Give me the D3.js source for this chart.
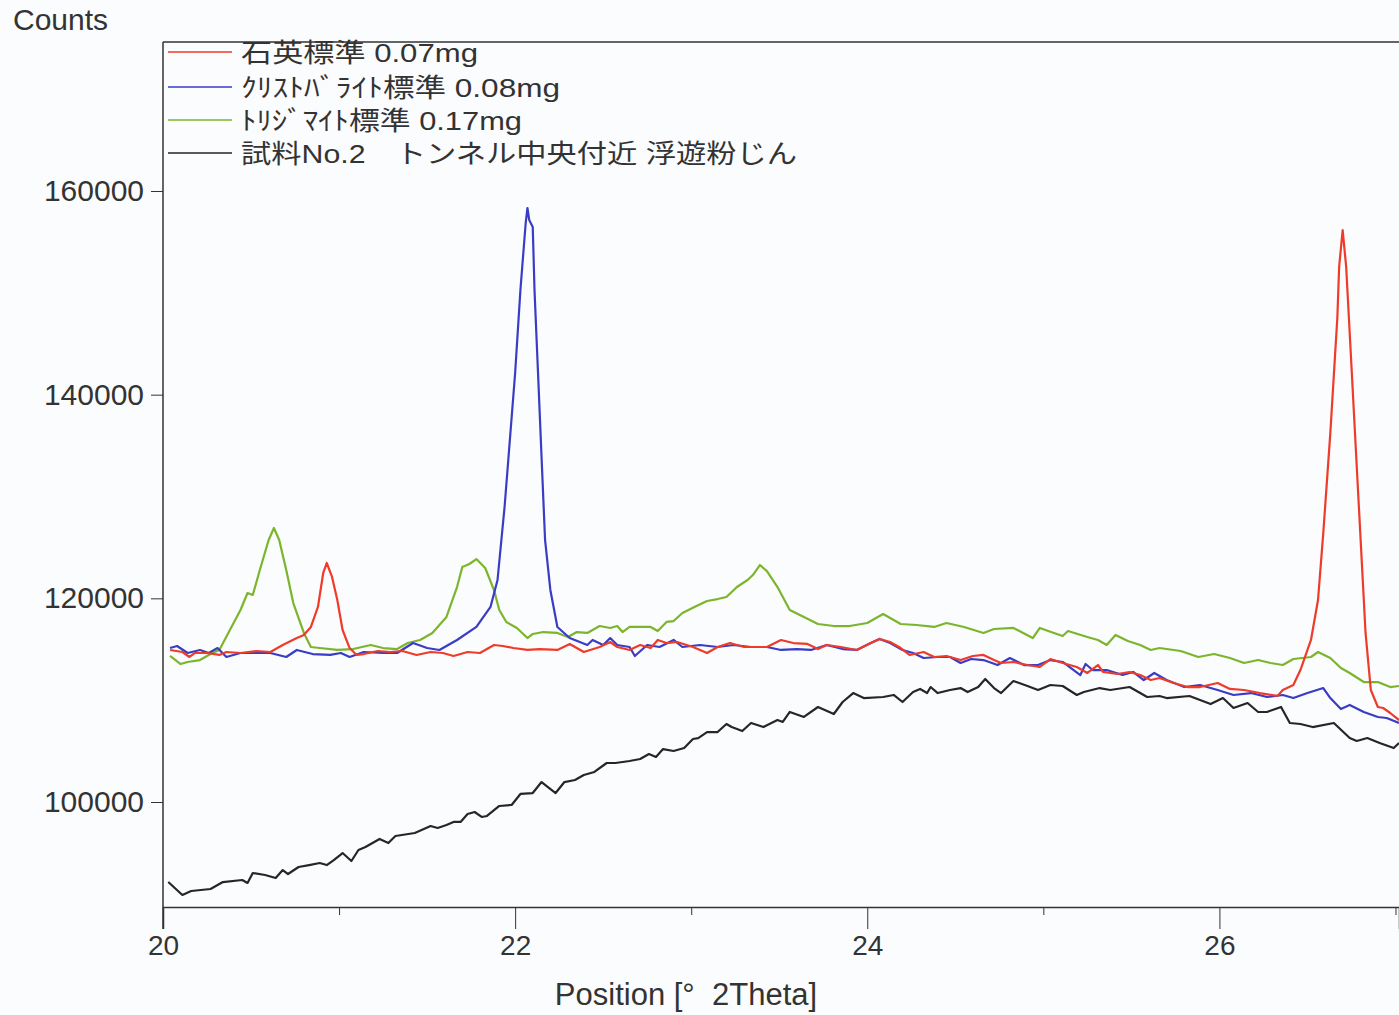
<!DOCTYPE html>
<html>
<head>
<meta charset="utf-8">
<script src="https://cdn.jsdelivr.net/npm/d3@7"></script>
<style>
  html, body { margin: 0; padding: 0; background: #fbfcfd; }
  svg { display: block; }
  text { font-family: "Liberation Sans", "Noto Sans CJK JP", sans-serif; fill: #333; }
</style>
</head>
<body>
<svg id="chart" width="1399" height="1015"></svg>
<script>
// --- Data (2Theta, counts) ---
const xTicks = [20, 22, 24, 26];
const xMinorTicks = [21, 23, 25, 27];
const yTicks = [100000, 120000, 140000, 160000];

const legendLabels = [
    '石英標準 0.07mg',
    'ｸﾘｽﾄﾊﾞﾗｲﾄ標準 0.08mg',
    'ﾄﾘｼﾞﾏｲﾄ標準 0.17mg',
    '試料No.2　トンネル中央付近 浮遊粉じん',
];
const seriesColors = ['#ee3b2a', '#3a3cc4', '#7cb52c', '#262626'];

const quartz = [
    [20.04,114930],[20.11,114730],[20.15,114240],[20.18,114630],[20.25,114630],[20.32,114440],
    [20.36,114730],[20.44,114630],[20.53,114830],[20.61,114730],[20.68,115420],[20.76,116100],
    [20.80,116400],[20.84,117190],[20.88,119150],[20.91,122490],[20.93,123470],[20.96,122100],
    [20.99,119840],[21.02,116890],[21.06,115120],[21.10,114440],[21.14,114530],[21.22,114830],
    [21.29,114730],[21.36,114830],[21.44,114440],[21.52,114730],[21.59,114630],[21.65,114340],
    [21.73,114730],[21.80,114630],[21.88,115420],[21.93,115320],[21.99,115120],[22.07,114930],
    [22.14,115020],[22.24,114930],[22.31,115520],[22.39,114730],[22.48,115220],[22.54,115710],
    [22.58,115220],[22.65,114930],[22.71,115420],[22.77,115120],[22.81,115910],[22.86,115610],
    [22.92,115710],[23.01,115220],[23.09,114630],[23.15,115220],[23.22,115610],[23.30,115220],
    [23.38,115220],[23.43,115220],[23.51,115910],[23.58,115610],[23.66,115520],[23.72,115020],
    [23.77,115420],[23.85,115220],[23.94,114930],[24.02,115610],[24.07,116010],[24.13,115710],
    [24.19,115120],[24.24,114440],[24.32,114730],[24.38,114240],[24.45,114340],[24.53,113940],
    [24.60,114340],[24.66,114440],[24.72,113940],[24.76,113650],[24.83,113750],[24.91,113450],
    [24.98,113260],[25.04,114040],[25.11,113650],[25.19,113260],[25.25,112670],[25.31,113450],
    [25.34,112770],[25.42,112570],[25.49,112770],[25.55,112470],[25.61,111980],[25.66,112180],
    [25.74,111690],[25.82,111290],[25.89,111290],[25.99,111690],[26.06,111100],[26.14,111000],
    [26.23,110700],[26.33,110410],[26.36,111000],[26.42,111490],[26.46,112960],[26.52,115910],
    [26.56,119840],[26.59,126420],[26.63,136240],[26.67,147630],[26.68,152540],[26.70,156170],
    [26.72,152540],[26.74,146060],[26.77,136240],[26.80,126420],[26.83,116600],[26.86,111000],
    [26.90,109330],[26.93,109230],[26.97,108740],[27.02,108050],
];

const cristobalite = [
    [20.04,115120],[20.08,115320],[20.14,114630],[20.21,114930],[20.26,114630],[20.31,115120],
    [20.36,114240],[20.44,114630],[20.55,114630],[20.61,114630],[20.70,114240],[20.76,114930],
    [20.85,114530],[20.95,114440],[21.01,114630],[21.06,114240],[21.14,114730],[21.25,114630],
    [21.33,114630],[21.42,115610],[21.50,115120],[21.57,114930],[21.67,115910],[21.78,117190],
    [21.86,119150],[21.90,121800],[21.94,128970],[21.97,135550],[22.00,142130],[22.03,150280],
    [22.06,156860],[22.07,158330],[22.08,157150],[22.10,156470],[22.11,150280],[22.13,142130],
    [22.15,133880],[22.17,125730],[22.20,120820],[22.24,117190],[22.31,116100],[22.41,115420],
    [22.44,115910],[22.50,115420],[22.54,116100],[22.58,115420],[22.65,115220],[22.68,114340],
    [22.75,115420],[22.82,115220],[22.90,115910],[22.95,115220],[23.05,115420],[23.15,115220],
    [23.24,115420],[23.34,115220],[23.43,115220],[23.51,114930],[23.60,115020],[23.68,114930],
    [23.77,115420],[23.86,115020],[23.94,114930],[24.02,115610],[24.07,116010],[24.13,115610],
    [24.20,114930],[24.26,114630],[24.32,114140],[24.40,114240],[24.47,114240],[24.53,113650],
    [24.59,114040],[24.66,113940],[24.74,113450],[24.81,114140],[24.89,113450],[24.97,113450],
    [25.04,113940],[25.11,113750],[25.21,112470],[25.24,113550],[25.28,112960],[25.36,112960],
    [25.45,112470],[25.51,112770],[25.57,111980],[25.63,112670],[25.70,111980],[25.80,111290],
    [25.89,111490],[25.99,111000],[26.08,110510],[26.18,110700],[26.27,110310],[26.36,110510],
    [26.42,110210],[26.50,110700],[26.59,111190],[26.63,110210],[26.69,109130],[26.74,109530],
    [26.82,108840],[26.90,108350],[26.95,108250],[27.02,107760],
];

const tridymite = [
    [20.04,114340],[20.10,113550],[20.14,113750],[20.21,113940],[20.28,114630],[20.32,114930],
    [20.38,116890],[20.44,118850],[20.48,120520],[20.51,120330],[20.55,122780],[20.60,125730],
    [20.63,126910],[20.66,125730],[20.70,122780],[20.74,119540],[20.80,116600],[20.84,115220],
    [20.89,115120],[20.99,114930],[21.08,115020],[21.18,115420],[21.25,115120],[21.33,115020],
    [21.39,115610],[21.46,115910],[21.53,116600],[21.61,118170],[21.67,121110],[21.70,123080],
    [21.74,123370],[21.78,123860],[21.83,122980],[21.88,120820],[21.91,118850],[21.95,117680],
    [22.01,117090],[22.07,116100],[22.10,116500],[22.16,116690],[22.24,116600],[22.30,116200],
    [22.35,116690],[22.41,116600],[22.48,117280],[22.54,117090],[22.58,117280],[22.61,116690],
    [22.65,117190],[22.77,117190],[22.81,116790],[22.86,117680],[22.90,117770],[22.95,118560],
    [23.03,119250],[23.09,119740],[23.15,119930],[23.20,120130],[23.26,121110],[23.32,121800],
    [23.35,122290],[23.39,123270],[23.43,122680],[23.49,121110],[23.56,118850],[23.64,118170],
    [23.72,117480],[23.81,117280],[23.90,117280],[24.00,117580],[24.09,118460],[24.19,117480],
    [24.28,117380],[24.38,117190],[24.45,117580],[24.55,117190],[24.66,116600],[24.72,116990],
    [24.83,117090],[24.94,116100],[24.98,117090],[25.06,116600],[25.11,116300],[25.14,116790],
    [25.25,116200],[25.31,115910],[25.36,115420],[25.41,116400],[25.48,115810],[25.55,115420],
    [25.61,114930],[25.66,115120],[25.78,114830],[25.88,114240],[25.97,114530],[26.06,114140],
    [26.14,113650],[26.22,113940],[26.29,113650],[26.36,113450],[26.42,114040],[26.52,114240],
    [26.56,114730],[26.63,114140],[26.69,113160],[26.74,112670],[26.82,111780],[26.90,111780],
    [26.97,111290],[27.02,111390],
];

const sample = [
    [20.03,92140],[20.11,90870],[20.16,91260],[20.27,91460],[20.34,92140],[20.45,92340],
    [20.48,92050],[20.51,93030],[20.58,92830],[20.64,92540],[20.68,93320],[20.71,92930],
    [20.77,93620],[20.83,93810],[20.89,94010],[20.93,93810],[20.97,94300],[21.02,94990],
    [21.07,94210],[21.11,95290],[21.15,95580],[21.23,96370],[21.28,95970],[21.32,96660],
    [21.43,96960],[21.52,97640],[21.56,97450],[21.61,97740],[21.65,98040],[21.69,98040],
    [21.73,98820],[21.77,99020],[21.81,98530],[21.84,98630],[21.91,99610],[21.98,99710],
    [22.03,100790],[22.10,100880],[22.15,101960],[22.23,100880],[22.28,101960],[22.34,102160],
    [22.39,102650],[22.45,102950],[22.52,103830],[22.57,103830],[22.65,104030],[22.71,104220],
    [22.76,104710],[22.80,104420],[22.84,105200],[22.90,105010],[22.96,105300],[23.01,106190],
    [23.04,106280],[23.09,106870],[23.15,106870],[23.20,107660],[23.23,107360],[23.29,106970],
    [23.34,107760],[23.41,107360],[23.49,108050],[23.52,107860],[23.56,108840],[23.64,108350],
    [23.72,109330],[23.81,108640],[23.86,109820],[23.92,110700],[23.98,110210],[24.09,110310],
    [24.15,110510],[24.20,109820],[24.26,110800],[24.30,111100],[24.34,110700],[24.36,111290],
    [24.40,110700],[24.47,111000],[24.53,111190],[24.57,110800],[24.63,111290],[24.67,112080],
    [24.72,111190],[24.76,110700],[24.83,111880],[24.91,111390],[24.97,111000],[25.04,111490],
    [25.11,111390],[25.19,110510],[25.23,110800],[25.32,111190],[25.38,111000],[25.49,111290],
    [25.59,110310],[25.66,110410],[25.70,110210],[25.83,110410],[25.95,109620],[26.02,110210],
    [26.08,109230],[26.16,109720],[26.22,108840],[26.27,108840],[26.35,109330],[26.40,107760],
    [26.46,107660],[26.53,107360],[26.65,107760],[26.74,106280],[26.78,105990],[26.84,106280],
    [26.91,105790],[26.99,105300],[27.02,105790],
];

const seriesData = [quartz, cristobalite, tridymite, sample];

// --- Layout ---
const svg = d3.select('#chart');
const width = 1399, height = 1015;
const margin = { top: 42, right: 0, bottom: 108, left: 163 };

const x = d3.scaleLinear()
    .domain([20, 27.02])
    .range([margin.left, width - margin.right]);

const y = d3.scaleLinear()
    .domain([89690, 174630])
    .range([height - margin.bottom, margin.top]);

svg.append('defs').append('clipPath').attr('id', 'plot-clip')
    .append('rect')
    .attr('x', margin.left).attr('y', margin.top)
    .attr('width', width - margin.left - margin.right)
    .attr('height', height - margin.top - margin.bottom);

// Frame top line
svg.append('line')
    .attr('x1', margin.left).attr('x2', width)
    .attr('y1', margin.top).attr('y2', margin.top)
    .attr('stroke', '#333').attr('stroke-width', 1.5);

// X axis (major ticks long, minor short)
const xAxis = svg.append('g')
    .attr('transform', `translate(0,${height - margin.bottom})`)
    .call(d3.axisBottom(x).tickValues(xTicks).tickSize(22).tickPadding(6).tickFormat(d3.format('d')));
xAxis.select('.domain').attr('stroke', '#333').attr('stroke-width', 1.5);
xAxis.selectAll('.tick line').attr('stroke', '#333');
xAxis.selectAll('text').attr('font-size', 28).style('fill', '#333');

svg.append('g')
    .attr('transform', `translate(0,${height - margin.bottom})`)
    .call(d3.axisBottom(x).tickValues(xMinorTicks).tickSize(8).tickFormat(''))
    .call(g => g.select('.domain').remove())
    .selectAll('.tick line').attr('stroke', '#333');

// Y axis
const yAxis = svg.append('g')
    .attr('transform', `translate(${margin.left},0)`)
    .call(d3.axisLeft(y).tickValues(yTicks).tickSize(12).tickPadding(7).tickFormat(d3.format('d')));
yAxis.select('.domain').remove();
yAxis.selectAll('.tick line').attr('stroke', '#333');
yAxis.selectAll('text').attr('font-size', 30).style('fill', '#333');

svg.append('line')
    .attr('x1', margin.left).attr('x2', margin.left)
    .attr('y1', margin.top).attr('y2', height - margin.bottom + 22)
    .attr('stroke', '#333').attr('stroke-width', 1.5);

// Axis titles
svg.append('text')
    .attr('x', 13).attr('y', 30)
    .attr('font-size', 30)
    .text('Counts');

svg.append('text')
    .attr('x', 686).attr('y', 1005)
    .attr('text-anchor', 'middle')
    .attr('font-size', 31)
    .attr('xml:space', 'preserve')
    .text('Position [°  2Theta]');

// --- Lines ---
const line = d3.line()
    .x(d => x(d[0]))
    .y(d => y(d[1]));

const plot = svg.append('g').attr('clip-path', 'url(#plot-clip)');

// draw sample first so standards sit above it
[3, 2, 1, 0].forEach(i => {
    plot.append('path')
        .datum(seriesData[i])
        .attr('fill', 'none')
        .attr('stroke', seriesColors[i])
        .attr('stroke-width', 2.2)
        .attr('stroke-linejoin', 'round')
        .attr('d', line);
});

// --- Legend ---
const legendY = [52, 87, 120, 153];
const legendWidths = [237, 319, 281, 556];  // text widths as printed
const legend = svg.append('g');
legendLabels.forEach((label, i) => {
    legend.append('line')
        .attr('x1', 168).attr('x2', 232)
        .attr('y1', legendY[i]).attr('y2', legendY[i])
        .attr('stroke', seriesColors[i]).attr('stroke-width', 1.5);
    legend.append('text')
        .attr('x', 241).attr('y', legendY[i] + 10)
        .attr('font-size', 26)
        .attr('textLength', legendWidths[i])
        .attr('lengthAdjust', 'spacingAndGlyphs')
        .text(label);
});
</script>
</body>
</html>
